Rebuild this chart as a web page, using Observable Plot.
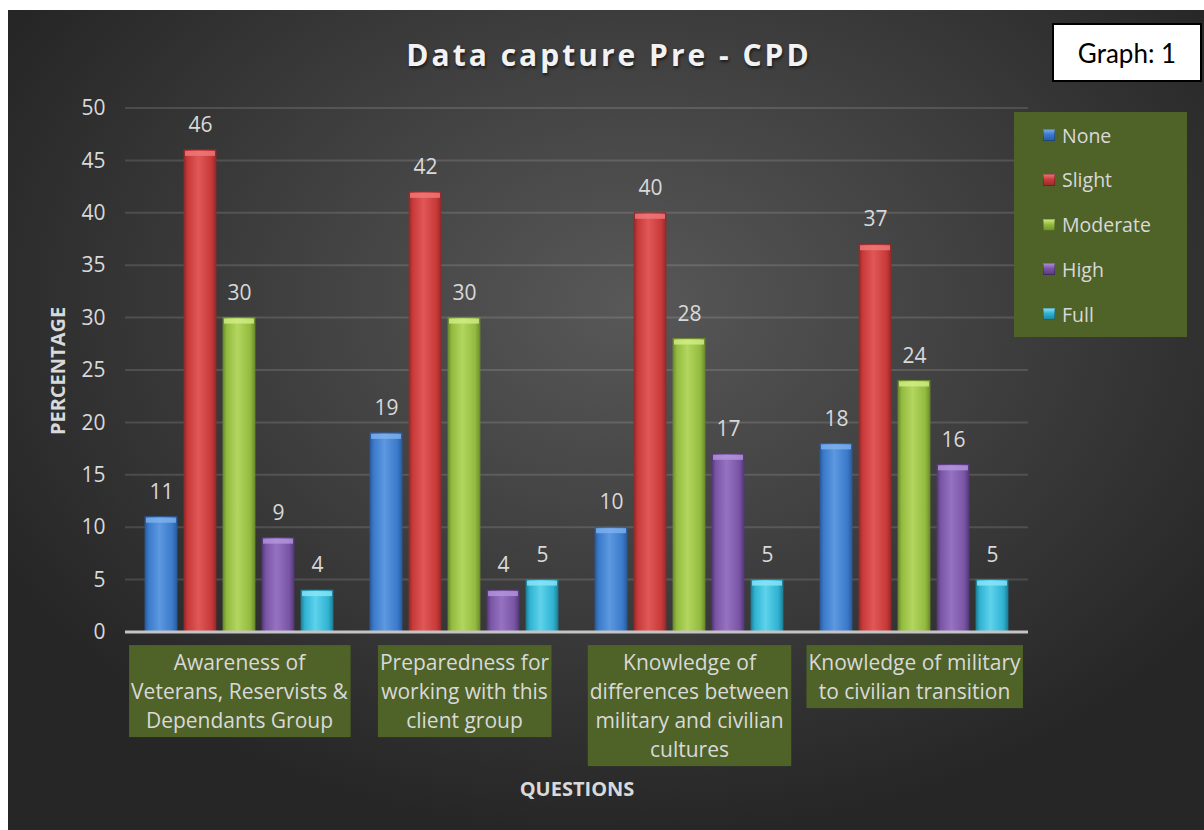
<!DOCTYPE html>
<html>
<head>
<meta charset="utf-8">
<script src="https://cdn.jsdelivr.net/npm/d3@7"></script>
<script src="https://cdn.jsdelivr.net/npm/@observablehq/plot@0.6"></script>
<style>
  html, body { margin: 0; padding: 0; background: #ffffff; }
  #panel {
    position: absolute; left: 8px; top: 10px; width: 1196px; height: 820px; overflow: hidden;
    background: radial-gradient(ellipse 60% 65% at 52% 36%, #585858 0%, #262626 100%);
    font-family: "Open Sans", sans-serif; color: #d9d9d9;
  }
  #chart { position: absolute; left: 0; top: 0; }
  #title {
    position: absolute; left: 601px; top: 27px; transform: translateX(-50%);
    font-size: 30px; line-height: 36px; font-weight: 700; letter-spacing: 3px; white-space: nowrap;
    color: #f2f2f2; text-shadow: 1px 2px 3px rgba(0,0,0,0.6);
  }
  #ylabel {
    position: absolute; left: 49px; top: 361px; transform: translate(-50%,-50%) rotate(-90deg);
    font-size: 20px; font-weight: 700; white-space: nowrap; color: #d9d9d9;
  }
  #xlabel {
    position: absolute; left: 569px; top: 778px; transform: translate(-50%,-50%);
    font-size: 20px; font-weight: 700; white-space: nowrap; color: #d9d9d9;
  }
  #legend {
    position: absolute; left: 1006px; top: 102px; width: 173px; height: 225px; background: #4f6228;
  }
  .li { position: absolute; left: 29px; height: 28px; display: flex; align-items: center; font-size: 19.5px; color: #d9d9d9; }
  .sw { width: 12px; height: 12px; margin-right: 7px; box-shadow: inset 0 0 0 1px rgba(0,0,0,0.25); }
  #graphbox {
    position: absolute; left: 1044px; top: 13px; width: 150px; height: 59px; box-sizing: border-box;
    border: 2px solid #000; background: #fff; color: #000; font-family: Lato, "Open Sans", sans-serif;
    font-size: 26px; display: flex; align-items: center; justify-content: center;
  }
</style>
</head>
<body>
<div id="panel">
  <div id="chart"></div>
  <div id="title">Data capture Pre - CPD</div>
  <div id="ylabel">PERCENTAGE</div>
  <div id="xlabel">QUESTIONS</div>
  <div id="legend"></div>
  <div id="graphbox">Graph: 1</div>
</div>
<script>
// ---- data ----
const questions = [
  "Awareness of\nVeterans, Reservists &\nDependants Group",
  "Preparedness for\nworking with this\nclient group",
  "Knowledge of\ndifferences between\nmilitary and civilian\ncultures",
  "Knowledge of military\nto civilian transition"
];
const levels = ["None", "Slight", "Moderate", "High", "Full"];
const noneVals = [11, 19, 10, 18];
const slightVals = [46, 42, 40, 37];
const moderateVals = [30, 30, 28, 24];
const highVals = [9, 4, 17, 16];
const fullVals = [4, 5, 5, 5];
const yTicks = [0, 5, 10, 15, 20, 25, 30, 35, 40, 45, 50];

// ---- styles ----
const baseColors  = ["#3b7bcb", "#c93a3a", "#93bb40", "#7a55a5", "#2fb3d2"];
const lightColors = ["#5d98e0", "#e05757", "#b3d65e", "#9673c2", "#5fd2ec"];
const darkColors  = ["#2a5c9e", "#962a2a", "#6d8d2c", "#56397b", "#1f8099"];
const capColors   = ["#7fb2ef", "#f07a7a", "#d2ef86", "#b496dd", "#8be6f7"];

const seriesVals = [noneVals, slightVals, moderateVals, highVals, fullVals];
const rows = [];
levels.forEach((lv, i) => questions.forEach((q, j) => rows.push({question: q, level: lv, value: seriesVals[i][j], li: i})));

const plot = Plot.plot({
  width: 1196,
  height: 820,
  marginLeft: 117,
  marginRight: 176,
  marginTop: 98,
  marginBottom: 198,
  style: {background: "transparent", color: "#d9d9d9", fontFamily: "Open Sans, sans-serif", fontSize: "21px", overflow: "visible"},
  fx: {domain: questions, paddingInner: 0.146, paddingOuter: 0.073, axis: null, label: null},
  x: {domain: levels, paddingInner: 0.175, paddingOuter: 0, axis: null, label: null},
  y: {domain: [0, 50], ticks: yTicks, tickSize: 0, tickPadding: 38, label: null},
  marks: [
    ...levels.map((lv, i) => Plot.barY(rows.filter(r => r.level === lv), {
      fx: "question", x: "level", y: "value", fill: `url(#bargrad${i})`, stroke: darkColors[i], strokeWidth: 0.8
    })),
    ...levels.map((lv, i) => Plot.tickY(rows.filter(r => r.level === lv), {
      fx: "question", x: "level", y: "value", stroke: capColors[i], strokeWidth: 5, dy: 3, strokeOpacity: 0.8, inset: 1
    })),
    Plot.text(rows, {fx: "question", x: "level", y: "value", text: d => String(d.value), dy: -25, lineAnchor: "middle", fill: "#d9d9d9", fontSize: 21}),
    Plot.text(questions, {fx: d => d, frameAnchor: "bottom", text: d => d, lineAnchor: "top", dy: 17, lineHeight: 29 / 21, fontSize: 21, fill: "#d9d9d9", className: "qlabel"})
  ]
});
document.getElementById("chart").appendChild(plot);

// gradients for bars
const svg = d3.select(plot);
const defs = svg.insert("defs", ":first-child");
levels.forEach((lv, i) => {
  const g = defs.append("linearGradient").attr("id", `bargrad${i}`).attr("x1", 0).attr("x2", 1).attr("y1", 0).attr("y2", 0);
  g.append("stop").attr("offset", "0%").attr("stop-color", darkColors[i]);
  g.append("stop").attr("offset", "12%").attr("stop-color", baseColors[i]);
  g.append("stop").attr("offset", "45%").attr("stop-color", lightColors[i]);
  g.append("stop").attr("offset", "85%").attr("stop-color", baseColors[i]);
  g.append("stop").attr("offset", "100%").attr("stop-color", darkColors[i]);
});

// continuous gridlines and baseline from the library's scales
const ys = plot.scale("y");
const fxs = plot.scale("fx");
const [gx0, gx1] = fxs.range;
const firstG = plot.querySelector("g");
const grid = document.createElementNS("http://www.w3.org/2000/svg", "g");
plot.insertBefore(grid, firstG);
d3.select(grid).selectAll("line").data(yTicks.filter(t => t > 0)).join("line")
  .attr("x1", gx0).attr("x2", gx1)
  .attr("y1", d => ys.apply(d)).attr("y2", d => ys.apply(d))
  .attr("stroke", "#ffffff").attr("stroke-opacity", 0.13).attr("stroke-width", 2);
svg.append("line").attr("x1", gx0).attr("x2", gx1).attr("y1", ys.apply(0)).attr("y2", ys.apply(0))
  .attr("stroke", "#c4c4c4").attr("stroke-width", 3);

// green boxes behind question labels
svg.selectAll("g.qlabel text").each(function() {
  const bb = this.getBBox();
  const parent = this.parentNode;
  const r = document.createElementNS("http://www.w3.org/2000/svg", "rect");
  const tf = this.getAttribute("transform");
  if (tf) r.setAttribute("transform", tf);
  r.setAttribute("x", bb.x - 2);
  r.setAttribute("y", bb.y - 3);
  r.setAttribute("width", bb.width + 4);
  r.setAttribute("height", bb.height + 6);
  r.setAttribute("fill", "#4f6228");
  parent.insertBefore(r, this);
});

// legend
const legend = d3.select("#legend");
levels.forEach((lv, i) => {
  const item = legend.append("div").attr("class", "li").style("top", (23 + i * 44.75 - 14) + "px");
  item.append("div").attr("class", "sw")
    .style("background", `linear-gradient(180deg, ${capColors[i]} 0%, ${baseColors[i]} 45%, ${darkColors[i]} 100%)`);
  item.append("span").text(lv);
});
</script>
</body>
</html>
